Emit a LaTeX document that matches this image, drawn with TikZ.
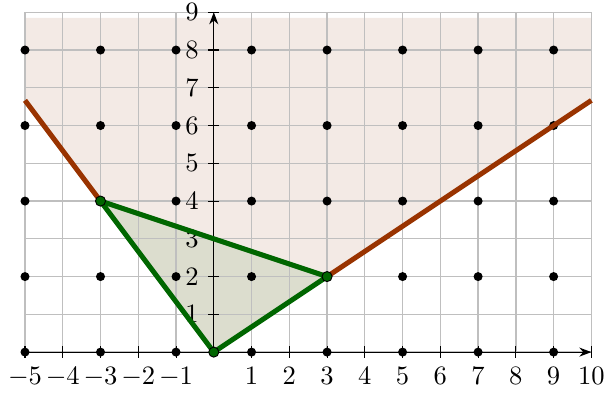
\documentclass[tikz,border=0pt]{standalone}
\usepackage{xcolor}
\usepackage{tikz}
\usetikzlibrary{arrows.meta}
\definecolor{rust}{RGB}{153, 51, 0}
\definecolor{regionfill}{RGB}{243, 234, 229}
\definecolor{leaf}{RGB}{0, 102, 0}
\definecolor{trifill}{RGB}{220, 221, 206}
\tikzset{
    gridline/.style={draw=gray!50, line width=0.5pt},
    axis/.style={draw, -{Stealth[length=1.6mm, width=1.2mm]}, line width=0.45pt},
    boundary/.style={draw=rust, line width=1.9pt},
    hull/.style={draw=leaf, line width=1.9pt, line join=round},
    lattice/.style={circle, fill=black, inner sep=0pt, minimum size=3.4pt},
    vertex/.style={circle, draw=black, fill=leaf, line width=0.35pt, inner sep=0pt, minimum size=3.8pt}
}

\begin{document}
\begin{tikzpicture}[scale=0.5]
        \useasboundingbox (-5.662,-1.113) rectangle (10.44,9.325);

        \coordinate (O) at (0,0);
        \coordinate (A) at (-3,4);
        \coordinate (B) at (3,2);
        \coordinate (L) at (-5,20/3);
        \coordinate (R) at (10,20/3);
        \coordinate (TL) at (-5,8.85);
        \coordinate (TR) at (10,8.85);

        % Regions
        \fill [regionfill] (L) -- (A) -- (B) -- (R) -- (TR) -- (TL) -- cycle;
        \fill [trifill] (O) -- (A) -- (B) -- cycle;

        \draw [gridline] (-5,0) grid (10,9);

        % Axes
        \draw [axis] (-5,0) -- (10,0);
        \draw [axis] (0,0) -- (0,9);
        \foreach \x in {-5,...,-1,1,2,...,10} {
            \draw (\x,-0.15) -- (\x,0.15);
            \node [below] (xl\x) at (\x,-0.15) {$\x$};
        }
        \foreach \y in {1,...,9} {
            \draw (-0.15,\y) -- (0.15,\y);
            \node [left] (yl\y) at (-0.15,\y) {$\y$};
        }

        % Lattice points
        \foreach \x in {-5,-3,...,9}
            \foreach \y in {0,2,...,8}
                \node [lattice] (p\x\y) at (\x,\y) {};

        % Draws
        \draw [boundary] (L) -- (A);
        \draw [boundary] (B) -- (R);
        \draw [hull] (O) -- (A) -- (B) -- cycle;
        \node [vertex] (vO) at (O) {};
        \node [vertex] (vA) at (A) {};
        \node [vertex] (vB) at (B) {};

    \end{tikzpicture}
\end{document}
